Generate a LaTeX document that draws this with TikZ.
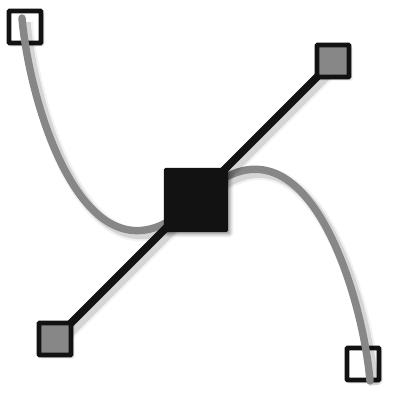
\documentclass[tikz,border=0pt]{standalone}
\usetikzlibrary{calc,shadows.blur}
\definecolor{InkClr}{rgb}{0.07,0.07,0.07}
\definecolor{CurveClr}{rgb}{0.53,0.53,0.53}

\tikzset{
  softshade/.style={preaction={draw=black,opacity=.05,line width=#1+4pt,
      transform canvas={shift={(3pt,-3pt)}}},
    preaction={draw=black,opacity=.12,line width=#1+1pt,
      transform canvas={shift={(3pt,-3pt)}}}},
  curve/.style={draw=CurveClr,line width=5.3pt,line cap=round,softshade=5.3pt},
  arm/.style={draw=InkClr,line width=5.5pt,softshade=5.5pt},
  endbox/.style={draw=InkClr,fill=white,line width=3.5pt,minimum size=0.8cm,
    inner sep=0pt,rounded corners=0.6pt,
    blur shadow={shadow xshift=1.5pt,shadow yshift=-1.5pt,shadow blur radius=1.5pt,shadow opacity=30}},
  handlebox/.style={endbox,fill=CurveClr},
  anchorbox/.style={fill=InkClr,minimum size=1.6cm,inner sep=0pt,rounded corners=1pt,
    blur shadow={shadow xshift=2pt,shadow yshift=-2pt,shadow blur radius=2pt,shadow opacity=35}}
}

\begin{document}
\begin{tikzpicture}[x=0.025cm,y=-0.025cm]

\useasboundingbox (0,0) rectangle (400,400);

\coordinate (c) at (196,200);
\coordinate (s) at (22,18);
\coordinate (e) at (370,381);
\coordinate (hb) at (55,339);
\coordinate (ht) at (333,61);

\node[endbox] (tl) at (25,27) {};
\node[endbox] (br) at (363,364) {};

\draw[curve] (s) .. controls (30,110) and (90,306) .. (c)
  .. controls (302,94) and (362,289) .. (e);

\draw[arm] (hb) -- (ht);

\node[handlebox] (bl) at (hb) {};
\node[handlebox] (tr) at (ht) {};
\node[anchorbox] (a) at (c) {};

\end{tikzpicture}
\end{document}
